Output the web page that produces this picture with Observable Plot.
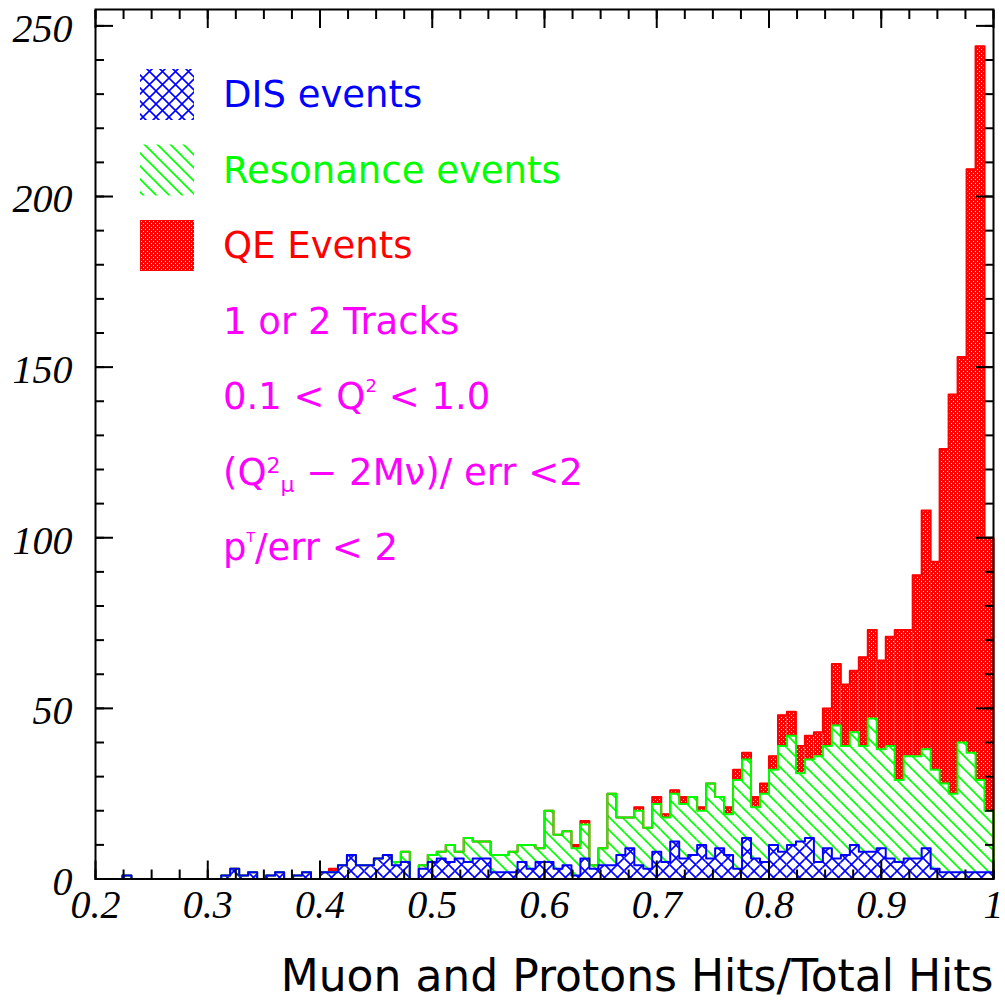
<!DOCTYPE html>
<html><head><meta charset="utf-8">
<script src="https://cdn.jsdelivr.net/npm/d3@7"></script>
<script src="https://cdn.jsdelivr.net/npm/@observablehq/plot@0.6"></script>
<style>
body{margin:0;background:#fff}
#chart svg{display:block}
</style>
</head><body><div id="chart"></div>
<script>
// ---- data: 100 bins of width 0.008 from 0.2 to 1.0 ----
const binStart = 0.2;
const binWidth = 0.008;
const disCounts = [
  0,0,0,1,0,0,0,0,0,0,
  0,0,0,0,1,3,1,2,0,1,
  2,0,1,2,0,2,2,4,7,4,
  4,6,7,4,5,0,3,5,6,5,
  6,5,6,6,2,2,2,5,3,5,
  5,3,4,1,6,3,4,4,7,9,
  4,3,8,5,11,6,7,10,6,9,
  7,3,12,6,5,10,8,10,11,12,
  5,9,6,7,10,8,8,9,6,5,
  6,6,9,3,2,2,2,2,2,2
];
const resCounts = [
  0,0,0,0,0,0,0,0,0,0,
  0,0,0,0,0,0,0,0,0,0,
  0,0,0,0,0,0,0,0,0,0,
  0,0,0,1,3,0,1,2,2,5,
  2,7,5,5,5,5,6,5,7,4,
  15,10,10,8,10,1,5,21,11,9,
  16,12,14,13,14,16,17,10,22,15,
  12,26,23,15,20,22,31,32,20,23,
  31,30,39,32,33,31,39,29,33,24,
  30,30,29,29,26,23,38,35,27,18
];
const qeCounts = [
  0,0,0,0,0,0,0,0,0,0,
  0,0,0,0,0,0,0,0,0,0,
  0,0,0,0,0,0,1,0,0,0,
  0,0,0,0,0,0,0,0,0,0,
  0,0,0,0,0,0,0,0,0,0,
  0,0,0,1,1,0,0,0,0,0,
  1,0,2,1,1,2,0,1,0,0,
  2,3,2,3,3,4,9,7,8,7,
  7,11,18,18,18,26,26,26,32,44,
  37,53,70,61,98,117,113,171,215,80
];
const seriesNames = ["DIS events", "Resonance events", "QE Events"];
const seriesColors = ["#0000ff", "#00ff00", "#ff0000"];
const seriesPatterns = ["pat-dis", "pat-res", "pat-qe"];
const cutColor = "#ff00ff";
const cutLines = [
  [{t: "1 or 2 Tracks"}],
  [{t: "0.1 < Q"}, {t: "2", sup: 17, size: 18}, {t: " < 1.0", sup: -17}],
  [{t: "(Q"}, {t: "2", sup: 12, size: 22}, {t: "\u03bc", sup: -19, size: 22}, {t: " \u2212 2M\u03bd)/ err <2", sup: 7}],
  [{t: "p"}, {t: "T", sup: 18, size: 14}, {t: "/err < 2", sup: -18}]
];
const xTicks = [0.2, 0.3, 0.4, 0.5, 0.6, 0.7, 0.8, 0.9, 1.0];
const xTickLabels = ["0.2", "0.3", "0.4", "0.5", "0.6", "0.7", "0.8", "0.9", "1"];
const yTicks = [0, 50, 100, 150, 200, 250];
const yTickLabels = ["0", "50", "100", "150", "200", "250"];
const xTitle = "Muon and Protons Hits/Total Hits";

// ---- derived tables ----
const nBins = disCounts.length;
const bins = d3.range(nBins).map(i => {
  const x1 = +(binStart + i * binWidth).toFixed(4);
  const x2 = +(binStart + (i + 1) * binWidth).toFixed(4);
  const dis = disCounts[i];
  const res = dis + resCounts[i];
  const tot = res + qeCounts[i];
  return {x1, x2, dis, res, tot};
});
const xEnd = bins[nBins - 1].x2;
function stepPoints(key) {
  const pts = [{x: binStart, y: 0}];
  bins.forEach(b => pts.push({x: b.x1, y: b[key]}));
  pts.push({x: xEnd, y: bins[nBins - 1][key]}, {x: xEnd, y: 0});
  return pts;
}
const xMinor = d3.range(0, 33).map(i => +(0.2 + i * 0.025).toFixed(3));
const yMinor = d3.range(0, 26).map(i => i * 10);

const serifFont = {fontSize: 40, fontFamily: "Liberation Serif", fontStyle: "italic"};
const blank = () => "";

const svg = Plot.plot({
  width: 1005,
  height: 1005,
  marginLeft: 95,
  marginRight: 12,
  marginTop: 9,
  marginBottom: 126.5,
  x: {domain: [0.2, 1.0]},
  y: {domain: [0, 254.8]},
  style: {background: "#fff", overflow: "visible"},
  marks: [
    Plot.rectY(bins, {x1: "x1", x2: "x2", y1: 0, y2: "dis", fill: `url(#${seriesPatterns[0]})`}),
    Plot.rectY(bins, {x1: "x1", x2: "x2", y1: "dis", y2: "res", fill: `url(#${seriesPatterns[1]})`}),
    Plot.rectY(bins, {x1: "x1", x2: "x2", y1: "res", y2: "tot", fill: `url(#${seriesPatterns[2]})`}),
    Plot.line(stepPoints("tot"), {x: "x", y: "y", curve: "step-after", stroke: seriesColors[2], strokeWidth: 2}),
    Plot.line(stepPoints("res"), {x: "x", y: "y", curve: "step-after", stroke: seriesColors[1], strokeWidth: 2}),
    Plot.line(stepPoints("dis"), {x: "x", y: "y", curve: "step-after", stroke: seriesColors[0], strokeWidth: 2}),
    Plot.frame({stroke: "#000", strokeWidth: 2}),
    // inward ticks on all four sides
    Plot.axisX(xMinor, {anchor: "bottom", tickSize: -9, tickFormat: blank, strokeWidth: 2, label: null}),
    Plot.axisX(xTicks, {anchor: "bottom", tickSize: -18, tickFormat: blank, strokeWidth: 2, label: null}),
    Plot.axisX(xMinor, {anchor: "top", tickSize: -9, tickFormat: blank, strokeWidth: 2, label: null}),
    Plot.axisX(xTicks, {anchor: "top", tickSize: -18, tickFormat: blank, strokeWidth: 2, label: null}),
    Plot.axisY(yMinor, {anchor: "left", tickSize: -9, tickFormat: blank, strokeWidth: 2, label: null}),
    Plot.axisY(yTicks, {anchor: "left", tickSize: -18, tickFormat: blank, strokeWidth: 2, label: null}),
    Plot.axisY(yMinor, {anchor: "right", tickSize: -9, tickFormat: blank, strokeWidth: 2, label: null}),
    Plot.axisY(yTicks, {anchor: "right", tickSize: -18, tickFormat: blank, strokeWidth: 2, label: null}),
    // tick labels
    Plot.axisX(xTicks, {anchor: "bottom", tickSize: 0, tickPadding: 11, label: null,
      tickFormat: d => xTickLabels[xTicks.indexOf(d)], ...serifFont, fill: "#000"}),
    Plot.axisY(yTicks, {anchor: "left", tickSize: 0, tickPadding: 23, label: null, dy: 3,
      tickFormat: d => yTickLabels[yTicks.indexOf(d)], ...serifFont, fill: "#000"}),
    // axis title
    Plot.text([xTitle], {frameAnchor: "bottom-right", textAnchor: "end", lineAnchor: "middle",
      dy: 97.5, fontSize: 44, fontFamily: "DejaVu Sans", fill: "#000", text: d => d})
  ]
});

// ---- fill patterns (ROOT-style hatches) ----
const s = d3.select(svg);
const defs = s.insert("defs", ":first-child");
const pDis = defs.append("pattern").attr("id", seriesPatterns[0]).attr("patternUnits", "userSpaceOnUse")
  .attr("width", 13).attr("height", 13);
pDis.append("path").attr("d", "M-1,-1L14,14M14,-1L-1,14").attr("stroke", seriesColors[0]).attr("stroke-width", 1.6).attr("fill", "none");
const pRes = defs.append("pattern").attr("id", seriesPatterns[1]).attr("patternUnits", "userSpaceOnUse")
  .attr("width", 13).attr("height", 13);
pRes.append("path").attr("d", "M-1,-1L14,14M-7,6L7,20M6,-7L20,7").attr("stroke", seriesColors[1]).attr("stroke-width", 1.6).attr("fill", "none");
const pQe = defs.append("pattern").attr("id", seriesPatterns[2]).attr("patternUnits", "userSpaceOnUse")
  .attr("width", 4).attr("height", 4);
pQe.append("rect").attr("width", 4).attr("height", 4).attr("fill", seriesColors[2]);
pQe.append("rect").attr("x", 1).attr("y", 1).attr("width", 1).attr("height", 1).attr("fill", "#fff");
pQe.append("rect").attr("x", 3).attr("y", 3).attr("width", 1).attr("height", 1).attr("fill", "#fff");

// ---- legend and cut annotations ----
const legend = s.append("g").attr("font-family", "DejaVu Sans").attr("font-size", 37).attr("text-anchor", "start");
const lineStep = 75.5, firstBaseline = 107, textX = 223;
seriesNames.forEach((name, i) => {
  const base = firstBaseline + i * lineStep;
  legend.append("rect").attr("x", 140).attr("y", base - 38).attr("width", 54).attr("height", 51)
    .attr("fill", `url(#${seriesPatterns[i]})`);
  legend.append("text").attr("x", textX).attr("y", base).attr("fill", seriesColors[i]).text(name);
});
cutLines.forEach((segs, j) => {
  const base = firstBaseline + (j + 3) * lineStep;
  const t = legend.append("text").attr("x", textX).attr("y", base).attr("fill", cutColor);
  segs.forEach(seg => {
    const ts = t.append("tspan").text(seg.t);
    if (seg.sup) ts.attr("dy", -seg.sup);
    if (seg.size) ts.attr("font-size", seg.size);
    if (seg.back) ts.attr("dx", -seg.back);
  });
});

document.getElementById("chart").append(svg);
</script>
</body></html>
